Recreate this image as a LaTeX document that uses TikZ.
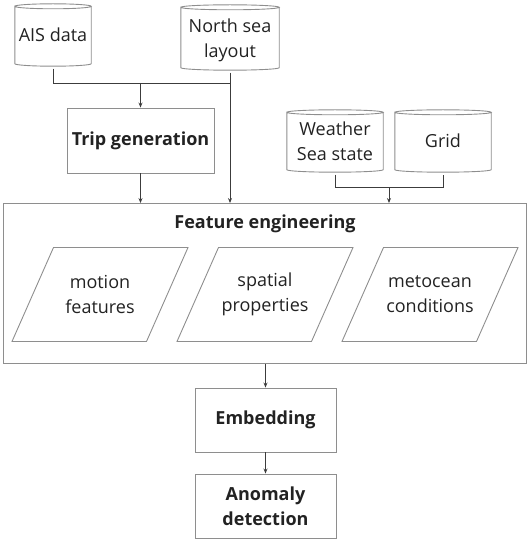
\documentclass[tikz,border=0pt]{standalone}
\usepackage{fontspec}
\setmainfont{Open Sans}
\usetikzlibrary{calc,arrows.meta}

\definecolor{edgegray}{HTML}{8E8E8E}
\definecolor{wiregray}{HTML}{3C3C3C}
\definecolor{inkgray}{HTML}{222222}

\tikzset{
  every node/.style={text=inkgray, font=\fontsize{18}{25}\selectfont, align=center},
  boxline/.style={draw=edgegray, line width=0.9pt},
  stepbox/.style={boxline, rectangle, inner sep=0pt, font=\fontsize{18}{25}\selectfont\bfseries},
  drumbody/.style={rectangle, inner sep=0pt},
  wire/.style={draw=wiregray, line width=0.9pt},
  flow/.style={wire, -{Stealth[length=5pt,width=4pt]}},
}

% outline of a drum (database) around a node
\newcommand{\drumoutline}[1]{%
  \draw[boxline] let \p1=(#1.north west), \p2=(#1.south east), \n1={(\x2-\x1)/2} in
    (\x1,\y1-2.5pt) arc[start angle=180, end angle=0, x radius=\n1, y radius=2.5pt]
    arc[start angle=0, end angle=-180, x radius=\n1, y radius=2.5pt]
    -- (\x1,\y2+2.5pt) arc[start angle=180, end angle=360, x radius=\n1, y radius=2.5pt]
    -- (\x2,\y1-2.5pt);}

% parallelogram around a node
\newcommand{\slantbox}[1]{%
  \draw[boxline] ($(#1)+(-88,-47)$) -- ($(#1)+(46.5,-47)$) -- ($(#1)+(88,47)$)
    -- ($(#1)+(-46.5,47)$) -- cycle;}

\begin{document}
\begin{tikzpicture}[x=1pt,y=1pt]
  \useasboundingbox (0,0) rectangle (527,539);

  % data sources
  \node[drumbody, minimum width=76, minimum height=62] (ais) at (53,504) {AIS data};
  \node[drumbody, minimum width=98, minimum height=65] (north) at (230,501.5) {};
  \node (northtext) at (230,498.5) {North sea\\layout};
  \node[drumbody, minimum width=96, minimum height=62] (weather) at (335,398) {Weather\\Sea state};
  \node[drumbody, minimum width=96, minimum height=62] (grid) at (443,398) {Grid};
  \drumoutline{ais}
  \drumoutline{north}
  \drumoutline{weather}
  \drumoutline{grid}

  % processing steps
  \node[stepbox, minimum width=147, minimum height=65] (trip) at (140.5,398.5) {Trip generation};
  \node[boxline, rectangle, inner sep=0pt, minimum width=522.5, minimum height=160] (feat) at (264.75,255.5) {};
  \node[font=\fontsize{18}{25}\selectfont\bfseries] (feattitle) at (265,315) {Feature engineering};
  \node[stepbox, minimum width=141, minimum height=64] (embed) at (265.5,119) {Embedding};
  \node[stepbox, minimum width=141, minimum height=64] (anom) at (265.5,33) {Anomaly\\detection};

  % feature groups
  \node (motion) at (100,244.5) {motion\\features};
  \node (spatial) at (265,244.5) {spatial\\properties};
  \node (meto) at (430,244.5) {metocean\\conditions};
  \slantbox{motion}
  \slantbox{spatial}
  \slantbox{meto}

  % junction points
  \coordinate (aisbend) at (ais.south |- 0,456);
  \coordinate (nsjoin) at (north.south |- 0,456);
  \coordinate (tripin) at (trip.north |- 0,456);
  \coordinate (wbend) at ($(weather.south)+(0,-15)$);
  \coordinate (gbend) at ($(grid.south)+(0,-15)$);
  \coordinate (metin) at ($(wbend)!0.5!(gbend)$);

  % connectors
  \draw[wire] ($(ais.south)+(0,-2.5)$) -- (aisbend) -- (nsjoin);
  \draw[flow] (tripin) -- (trip.north);
  \draw[flow] ($(north.south)+(0,-2.5)$) -- (north.south |- feat.north);
  \draw[flow] (trip.south) -- (trip.south |- feat.north);
  \draw[wire] ($(weather.south)+(0,-2.5)$) -- (wbend) -- (gbend) -- ($(grid.south)+(0,-2.5)$);
  \draw[flow] (metin) -- (metin |- feat.north);
  \draw[flow] (feat.south -| embed.north) -- (embed.north);
  \draw[flow] (embed.south) -- (anom.north);
\end{tikzpicture}
\end{document}
